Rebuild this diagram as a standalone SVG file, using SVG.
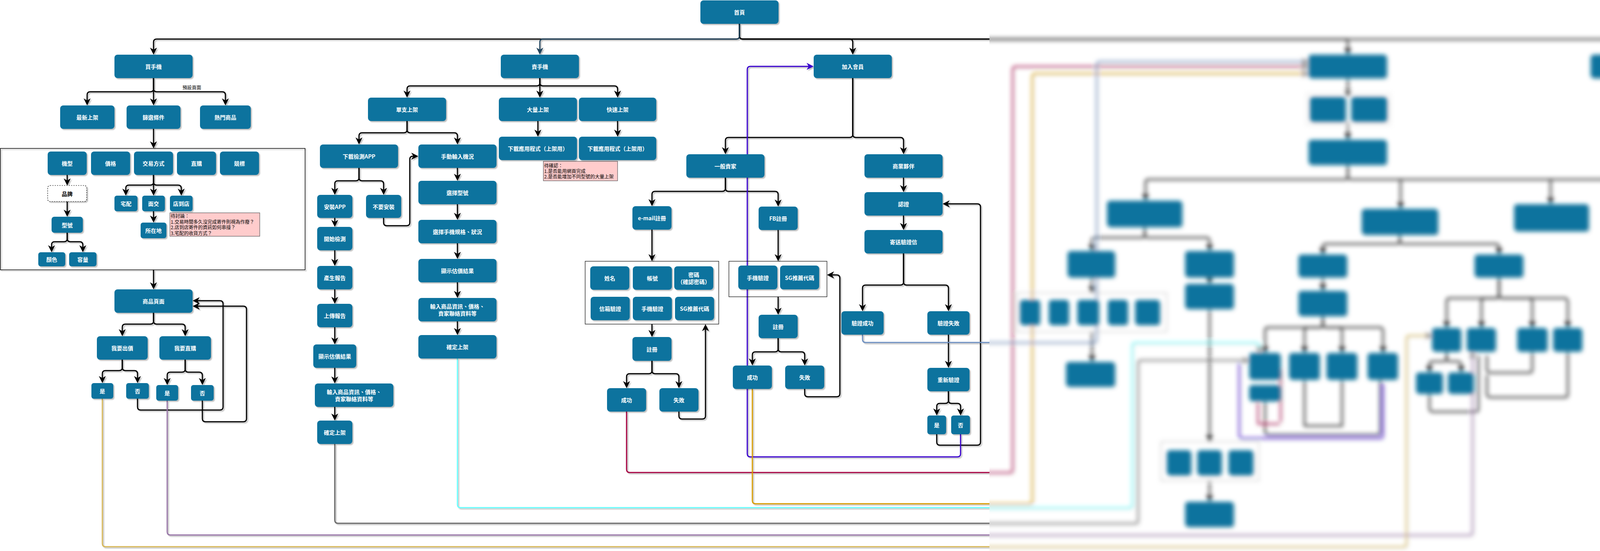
<svg xmlns="http://www.w3.org/2000/svg" xmlns:xlink="http://www.w3.org/1999/xlink" width="4814" height="1411" viewBox="0 0 4814 1411">
<style>
.nd rect{fill:#10739E;filter:url(#sh)}
.nd text,.tx{fill:#fff;font-family:"Noto Sans CJK TC","Noto Sans CJK SC",sans-serif;font-size:14px;font-weight:bold;text-anchor:middle;dominant-baseline:central}
.e{fill:none;stroke:#000;stroke-width:3;marker-end:url(#ab)}
.p{fill:none;stroke:#000;stroke-width:3}
.box{fill:none;stroke:#000;stroke-width:1.2}
.note rect{fill:#FFCCCC;stroke:#36393D;stroke-width:1}
.note text,.lbl{fill:#000;font-family:"Noto Sans CJK TC","Noto Sans CJK SC",sans-serif;font-size:12px}
</style>
<defs>
<filter id="sh" x="-20%" y="-20%" width="140%" height="150%"><feDropShadow dx="3" dy="3" stdDeviation="1" flood-color="#000" flood-opacity="0.25"/></filter>
<filter id="bl" x="-2%" y="-5%" width="104%" height="110%"><feGaussianBlur stdDeviation="6"/></filter>
<clipPath id="rc"><rect x="2533" y="0" width="2281" height="1411"/></clipPath>
<marker id="ab" viewBox="0 0 20 20" refX="9" refY="10" markerWidth="18" markerHeight="18" markerUnits="userSpaceOnUse" orient="auto"><path d="M20,10 L0,0 L6,10 L0,20 Z" fill="#000"/></marker>
<marker id="as" viewBox="0 0 20 20" refX="9" refY="10" markerWidth="18" markerHeight="18" markerUnits="userSpaceOnUse" orient="auto"><path d="M20,10 L0,0 L6,10 L0,20 Z" fill="#23445D"/></marker>
<marker id="ap" viewBox="0 0 20 20" refX="9" refY="10" markerWidth="18" markerHeight="18" markerUnits="userSpaceOnUse" orient="auto"><path d="M20,10 L0,0 L6,10 L0,20 Z" fill="#3700CC"/></marker>
<marker id="ac" viewBox="0 0 20 20" refX="9" refY="10" markerWidth="18" markerHeight="18" markerUnits="userSpaceOnUse" orient="auto"><path d="M20,10 L0,0 L6,10 L0,20 Z" fill="#888"/></marker>
</defs>
<rect x="0" y="0" width="4814" height="1411" fill="#fff"/>

<g id="connectors" filter="url(#sh)">
<path class="e" d="M1893,61 V92 Q1893,100 1885,100 H401 Q393,100 393,108 V130"/>
<path class="e" d="M1893,61 V92 Q1893,100 1901,100 H2175 Q2183,100 2183,108 V130"/>
<path class="e" d="M1893,61 V92 Q1893,100 1901,100 H3442 Q3450,100 3450,108 V130"/>
<path class="e" d="M1893,61 V92 Q1893,100 1901,100 H4164 Q4172,100 4172,108 V130"/>
<path class="e" style="stroke:#23445D;marker-end:url(#as)" d="M1893,61 V92 Q1893,100 1885,100 H1390 Q1382,100 1382,108 V130"/>
<path class="e" d="M393,200 V227 Q393,235 385,235 H231 Q223,235 223,243 V260"/>
<path class="e" d="M393,200 V260"/>
<path class="e" d="M393,200 V227 Q393,235 401,235 H569 Q577,235 577,243 V260"/>
<path class="e" d="M393,330 V370"/>
<path class="e" d="M172,448 V465"/>
<path class="e" d="M172,516 V545"/>
<path class="e" d="M172,596 V611 Q172,619 164,619 H140 Q132,619 132,627 V636"/>
<path class="e" d="M172,596 V611 Q172,619 180,619 H204 Q212,619 212,627 V636"/>
<path class="e" d="M393,448 V466 Q393,474 385,474 H330 Q322,474 322,482 V491"/>
<path class="e" d="M393,448 V491"/>
<path class="e" d="M393,448 V466 Q393,474 401,474 H456 Q464,474 464,482 V491"/>
<path class="e" d="M393,541 V560"/>
<path class="e" d="M393,691 V731"/>
<path class="e" d="M393,801 V822 Q393,830 385,830 H321 Q313,830 313,838 V851"/>
<path class="e" d="M393,801 V822 Q393,830 401,830 H466 Q474,830 474,838 V851"/>
<path class="e" d="M313,921 V941 Q313,949 305,949 H270 Q262,949 262,957 V971"/>
<path class="e" d="M313,921 V941 Q313,949 321,949 H344 Q352,949 352,957 V971"/>
<path class="e" d="M474,921 V945 Q474,953 466,953 H436 Q428,953 428,961 V976"/>
<path class="e" d="M474,921 V945 Q474,953 482,953 H510 Q518,953 518,961 V976"/>
<path class="e" d="M352,1021 V1042 Q352,1050 360,1050 H563 Q571,1050 571,1042 V778 Q571,770 563,770 H503"/>
<path class="e" d="M518,1026 V1072 Q518,1080 526,1080 H623 Q631,1080 631,1072 V792 Q631,784 623,784 H503"/>
<path class="e" d="M1382,200 V212 Q1382,220 1374,220 H1050 Q1042,220 1042,228 V240"/>
<path class="e" d="M1382,200 V240"/>
<path class="e" d="M1382,200 V212 Q1382,220 1390,220 H1573 Q1581,220 1581,228 V240"/>
<path class="e" d="M1377,310 V340"/>
<path class="e" d="M1581,310 V340"/>
<path class="e" d="M1042,310 V332 Q1042,340 1034,340 H927 Q919,340 919,348 V360"/>
<path class="e" d="M1042,310 V332 Q1042,340 1050,340 H1163 Q1171,340 1171,348 V360"/>
<path class="e" d="M919,430 V455 Q919,463 911,463 H865 Q857,463 857,471 V489"/>
<path class="e" d="M919,430 V455 Q919,463 927,463 H974 Q982,463 982,471 V489"/>
<path class="e" d="M982,558 V570 Q982,578 990,578 H1041 Q1049,578 1049,570 V408 Q1049,400 1057,400 H1061"/>
<path class="e" d="M857,558 V571"/>
<path class="e" d="M857,641 V671"/>
<path class="e" d="M857,741 V768"/>
<path class="e" d="M857,838 V872"/>
<path class="e" d="M857,942 V972"/>
<path class="e" d="M857,1042 V1067"/>
<path class="e" d="M1171,430 V453"/>
<path class="e" d="M1171,523 V553"/>
<path class="e" d="M1171,623 V653"/>
<path class="e" d="M1171,723 V753"/>
<path class="e" d="M1171,823 V848"/>
<path class="e" d="M2183,200 V344 Q2183,352 2175,352 H1865 Q1857,352 1857,360 V385"/>
<path class="e" d="M2183,200 V344 Q2183,352 2191,352 H2305 Q2313,352 2313,360 V385"/>
<path class="e" d="M1857,455 V482 Q1857,490 1849,490 H1677 Q1669,490 1669,498 V518"/>
<path class="e" d="M1857,455 V482 Q1857,490 1865,490 H1984 Q1992,490 1992,498 V519"/>
<path class="e" d="M1669,588 V659"/>
<path class="e" d="M1669,830 V853"/>
<path class="e" d="M1669,924 V949 Q1669,957 1661,957 H1612 Q1604,957 1604,965 V984"/>
<path class="e" d="M1669,924 V949 Q1669,957 1677,957 H1730 Q1738,957 1738,965 V984"/>
<path class="e" d="M1738,1054 V1065 Q1738,1073 1746,1073 H1798 Q1806,1073 1806,1065 V840"/>
<path class="e" d="M1992,589 V659"/>
<path class="e" d="M1992,760 V796"/>
<path class="e" d="M1992,866 V893 Q1992,901 1984,901 H1934 Q1926,901 1926,909 V926"/>
<path class="e" d="M1992,866 V893 Q1992,901 2000,901 H2052 Q2060,901 2060,909 V926"/>
<path class="e" d="M2060,996 V1008 Q2060,1016 2068,1016 H2142 Q2150,1016 2150,1008 V712 Q2150,704 2142,704 H2127"/>
<path class="e" d="M2313,455 V482"/>
<path class="e" d="M2313,552 V579"/>
<path class="e" d="M2313,649 V722 Q2313,730 2305,730 H2216 Q2208,730 2208,738 V787"/>
<path class="e" d="M2313,649 V722 Q2313,730 2321,730 H2420 Q2428,730 2428,738 V787"/>
<path class="e" d="M2428,857 V932"/>
<path class="e" d="M2428,1002 V1025 Q2428,1033 2420,1033 H2406 Q2398,1033 2398,1041 V1054"/>
<path class="e" d="M2428,1002 V1025 Q2428,1033 2436,1033 H2451 Q2459,1033 2459,1041 V1054"/>
<path class="e" d="M2398,1112 V1132 Q2398,1140 2406,1140 H2502 Q2510,1140 2510,1132 V530 Q2510,522 2502,522 H2423"/>
<path class="e" style="stroke:#3700CC;marker-end:url(#ap)" d="M2459,1112 V1162 Q2459,1170 2451,1170 H1921 Q1913,1170 1913,1162 V178 Q1913,170 1921,170 H2073"/>
<path class="e" style="stroke:#A50040;marker-end:url(#ac)" d="M1604,1054 V1202 Q1604,1210 1612,1210 H2584 Q2592,1210 2592,1202 V178 Q2592,170 2600,170 H3340"/>
<path class="e" style="stroke:#D79B00;marker-end:url(#ac)" d="M1926,996 V1282 Q1926,1290 1934,1290 H2634 Q2642,1290 2642,1282 V196 Q2642,188 2650,188 H3340"/>
<path class="e" style="stroke:#6C8EBF;marker-end:url(#ac)" d="M2208,857 V869 Q2208,877 2216,877 H2799 Q2807,877 2807,869 V165 Q2807,157 2815,157 H3340"/>
<path class="e" style="stroke:#66FFFF;marker-end:url(#ac)" d="M1171,918 V1292 Q1171,1300 1179,1300 H2890 Q2898,1300 2898,1292 V885 Q2898,877 2906,877 H3215 Q3223,877 3223,885 V894"/>
<path class="e" style="stroke:#666666;marker-end:url(#ac)" d="M857,1137 V1332 Q857,1340 865,1340 H2905 Q2913,1340 2913,1332 V930 Q2913,922 2921,922 H3188"/>
<path class="e" style="stroke:#9673A6;marker-end:url(#ac)" d="M428,1026 V1362 Q428,1370 436,1370 H3761 Q3769,1370 3769,1362 V910"/>
<path class="e" style="stroke:#D6B656;marker-end:url(#ac)" d="M262,1021 V1392 Q262,1400 270,1400 H3592 Q3600,1400 3600,1392 V867 Q3600,859 3608,859 H3656"/>
<path class="e" d="M3450,200 V238"/>
<path class="e" d="M3450,312 V348"/>
<path class="e" d="M3450,422 V451 Q3450,459 3442,459 H2940 Q2932,459 2932,467 V504"/>
<path class="e" d="M3450,422 V451 Q3450,459 3458,459 H4499 Q4507,459 4507,467 V513"/>
<path class="e" d="M3585,459 V525"/>
<path class="e" d="M3969,459 V513"/>
<path class="e" d="M4239,459 V513"/>
<path class="e" d="M2930,581 V600 Q2930,608 2922,608 H2803 Q2795,608 2795,616 V633"/>
<path class="e" d="M2930,581 V600 Q2930,608 2938,608 H3088 Q3096,608 3096,616 V633"/>
<path class="e" d="M3583,601 V616 Q3583,624 3575,624 H3394 Q3386,624 3386,632 V642"/>
<path class="e" d="M3583,601 V616 Q3583,624 3591,624 H3829 Q3837,624 3837,632 V642"/>
<path class="e" d="M4511,592 V603 Q4511,611 4503,611 H4336 Q4328,611 4328,619 V633"/>
<path class="e" d="M4511,592 V633"/>
<path class="e" d="M4511,592 V603 Q4511,611 4519,611 H4631 Q4639,611 4639,619 V633"/>
<path class="e" d="M4511,592 V603 Q4511,611 4519,611 H4759 Q4767,611 4767,619 V633"/>
<path class="e" d="M2795,710 V740"/>
<path class="e" d="M2795,850 V917"/>
<path class="e" d="M3096,710 V717"/>
<path class="e" d="M3096,791 V1121"/>
<path class="e" d="M3096,1231 V1275"/>
<path class="e" d="M3386,710 V735"/>
<path class="e" d="M3386,809 V830 Q3386,838 3378,838 H3246 Q3238,838 3238,846 V894"/>
<path class="e" d="M3386,809 V830 Q3386,838 3378,838 H3347 Q3339,838 3339,846 V894"/>
<path class="e" d="M3386,809 V830 Q3386,838 3394,838 H3427 Q3435,838 3435,846 V894"/>
<path class="e" d="M3386,809 V830 Q3386,838 3394,838 H3532 Q3540,838 3540,846 V894"/>
<path class="p" d="M3238,1027 V1105 Q3238,1113 3246,1113 H3525 Q3533,1113 3533,1105 V972"/>
<path class="p" d="M3339,972 V1090 H3435 V972"/>
<path class="p" style="stroke:#3700CC" d="M3172,930 V1114 Q3172,1122 3180,1122 H3532 Q3540,1122 3540,1114 V982"/>
<path class="p" style="stroke:#A50040" d="M3278,945 V1080 M3220,1030 V1085 H3275"/>
<path class="e" d="M3837,710 V755 Q3837,763 3829,763 H3711 Q3703,763 3703,771 V830"/>
<path class="e" d="M3837,710 V755 Q3837,763 3829,763 H3800 Q3792,763 3792,771 V830"/>
<path class="e" d="M3837,710 V755 Q3837,763 3845,763 H3914 Q3922,763 3922,771 V830"/>
<path class="e" d="M3837,710 V755 Q3837,763 3845,763 H4005 Q4013,763 4013,771 V830"/>
<path class="e" d="M3703,900 V917 Q3703,925 3695,925 H3667 Q3659,925 3659,933 V944"/>
<path class="e" d="M3703,900 V917 Q3703,925 3711,925 H3732 Q3740,925 3740,933 V944"/>
<path class="p" d="M3659,1008 V1046 Q3659,1054 3667,1054 H3776 Q3784,1054 3784,1046 V910"/>
<path class="p" d="M3922,900 V946 Q3922,954 3914,954 H3814 Q3806,954 3806,946 V910"/>
<path class="p" d="M4013,900 V1009 Q4013,1017 4005,1017 H3814 Q3806,1017 3806,1009 V960"/>
<path class="e" d="M4328,713 V732 Q4328,740 4320,740 H4296 Q4288,740 4288,748 V758"/>
<path class="e" d="M4328,713 V732 Q4328,740 4336,740 H4358 Q4366,740 4366,748 V758"/>
<path class="e" d="M4511,713 V732 Q4511,740 4503,740 H4473 Q4465,740 4465,748 V758"/>
<path class="e" d="M4511,713 V732 Q4511,740 4519,740 H4547 Q4555,740 4555,748 V758"/>
</g>

<g id="c-filter"><rect class="box" x="1" y="380" width="780" height="311" style="stroke-width:1.5;filter:url(#sh)"/></g>
<g id="c-email"><rect class="box" x="1498" y="669" width="342" height="161"/></g>
<g id="c-fb"><rect class="box" x="1866" y="669" width="251" height="91"/></g>
<g id="note-trade" class="note"><rect x="435" y="545" width="230" height="60"/>
<text x="437" y="558">待討論：<tspan x="437" dy="14.5">1.交易時間多久沒完成寄件則視為作廢？</tspan><tspan x="437" dy="14.5">2.店到店寄件的資訊如何串接？</tspan><tspan x="437" dy="14.5">3.宅配的收貨方式？</tspan></text></g>
<g id="note-bulk" class="note"><rect x="1391" y="413" width="190" height="50"/>
<text x="1393" y="429">待確認：<tspan x="1393" dy="14">1.是否能用網頁完成</tspan><tspan x="1393" dy="14">2.是否能增加不同型號的大量上架</tspan></text></g>
<g id="lbl-default"><rect x="465" y="215" width="52" height="16" fill="#fff"/><text class="lbl" x="491" y="223" text-anchor="middle" dominant-baseline="central">預設頁面</text></g>

<g id="n-home" class="nd"><rect x="1793" y="1" width="200" height="60" rx="8"/><text x="1893" y="31">首頁</text></g>
<g id="n-buy" class="nd"><rect x="293" y="140" width="200" height="60" rx="8"/><text x="393" y="170">買手機</text></g>
<g id="n-sell" class="nd"><rect x="1282" y="140" width="200" height="60" rx="8"/><text x="1382" y="170">賣手機</text></g>
<g id="n-member" class="nd"><rect x="2083" y="140" width="200" height="60" rx="8"/><text x="2183" y="170">加入會員</text></g>
<g id="n-latest" class="nd"><rect x="154" y="270" width="139" height="60" rx="8"/><text x="223.5" y="300">最新上架</text></g>
<g id="n-filter" class="nd"><rect x="324" y="270" width="138" height="60" rx="8"/><text x="393" y="300">篩選條件</text></g>
<g id="n-hot" class="nd"><rect x="512" y="270" width="130" height="60" rx="8"/><text x="577" y="300">熱門商品</text></g>
<g id="n-model" class="nd"><rect x="122" y="388" width="100" height="60" rx="8"/><text x="172" y="418">機型</text></g>
<g id="n-price" class="nd"><rect x="233" y="388" width="100" height="60" rx="8"/><text x="283" y="418">價格</text></g>
<g id="n-trade" class="nd"><rect x="343" y="388" width="100" height="60" rx="8"/><text x="393" y="418">交易方式</text></g>
<g id="n-direct" class="nd"><rect x="453" y="388" width="100" height="60" rx="8"/><text x="503" y="418">直購</text></g>
<g id="n-auction" class="nd"><rect x="563" y="388" width="100" height="60" rx="8"/><text x="613" y="418">競標</text></g>
<g id="n-brand"><rect x="122" y="475" width="100" height="41" rx="6" fill="#fff" stroke="#000" stroke-width="1.2" stroke-dasharray="3 3" filter="url(#sh)"/><text class="tx" x="172" y="495.5" style="fill:#000">品牌</text></g>
<g id="n-modelno" class="nd"><rect x="132" y="555" width="80" height="41" rx="7"/><text x="172" y="575.5">型號</text></g>
<g id="n-color" class="nd"><rect x="98" y="646" width="69" height="36" rx="6"/><text x="132.5" y="664">顏色</text></g>
<g id="n-capacity" class="nd"><rect x="177" y="646" width="70" height="36" rx="6"/><text x="212" y="664">容量</text></g>
<g id="n-delivery" class="nd"><rect x="293" y="501" width="59" height="40" rx="6"/><text x="322.5" y="521">宅配</text></g>
<g id="n-meet" class="nd"><rect x="364" y="501" width="58" height="40" rx="6"/><text x="393" y="521">面交</text></g>
<g id="n-store" class="nd"><rect x="435" y="501" width="58" height="40" rx="6"/><text x="464" y="521">店到店</text></g>
<g id="n-location" class="nd"><rect x="360" y="570" width="66" height="40" rx="6"/><text x="393" y="590">所在地</text></g>
<g id="n-product" class="nd"><rect x="293" y="741" width="200" height="60" rx="8"/><text x="393" y="771">商品頁面</text></g>
<g id="n-bid" class="nd"><rect x="248" y="861" width="130" height="60" rx="8"/><text x="313" y="891">我要出價</text></g>
<g id="n-buynow" class="nd"><rect x="408" y="861" width="132" height="60" rx="8"/><text x="474" y="891">我要直購</text></g>
<g id="n-bid-yes" class="nd"><rect x="234" y="981" width="56" height="40" rx="6"/><text x="262" y="1001">是</text></g>
<g id="n-bid-no" class="nd"><rect x="323" y="981" width="58" height="40" rx="6"/><text x="352" y="1001">否</text></g>
<g id="n-buynow-yes" class="nd"><rect x="400" y="986" width="56" height="40" rx="6"/><text x="428" y="1006">是</text></g>
<g id="n-buynow-no" class="nd"><rect x="489" y="986" width="58" height="40" rx="6"/><text x="518" y="1006">否</text></g>
<g id="n-single" class="nd"><rect x="942" y="250" width="200" height="60" rx="8"/><text x="1042" y="280">單支上架</text></g>
<g id="n-bulk" class="nd"><rect x="1277" y="250" width="200" height="60" rx="8"/><text x="1377" y="280">大量上架</text></g>
<g id="n-quick" class="nd"><rect x="1482" y="250" width="198" height="60" rx="8"/><text x="1581" y="280">快速上架</text></g>
<g id="n-dl1" class="nd"><rect x="1277" y="350" width="200" height="60" rx="8"/><text x="1377" y="380">下載應用程式（上架用）</text></g>
<g id="n-dl2" class="nd"><rect x="1482" y="350" width="198" height="60" rx="8"/><text x="1581" y="380">下載應用程式（上架用）</text></g>
<g id="n-dlapp" class="nd"><rect x="819" y="370" width="200" height="60" rx="8"/><text x="919" y="400">下載檢測APP</text></g>
<g id="n-manual" class="nd"><rect x="1071" y="370" width="200" height="60" rx="8"/><text x="1171" y="400">手動輸入機況</text></g>
<g id="n-install" class="nd"><rect x="812" y="499" width="90" height="59" rx="8"/><text x="857" y="528.5">安裝APP</text></g>
<g id="n-noinstall" class="nd"><rect x="937" y="499" width="90" height="59" rx="8"/><text x="982" y="528.5">不要安裝</text></g>
<g id="n-start" class="nd"><rect x="812" y="581" width="90" height="60" rx="8"/><text x="857" y="611">開始檢測</text></g>
<g id="n-report" class="nd"><rect x="812" y="681" width="90" height="60" rx="8"/><text x="857" y="711">產生報告</text></g>
<g id="n-upload" class="nd"><rect x="812" y="778" width="90" height="60" rx="8"/><text x="857" y="808">上傳報告</text></g>
<g id="n-est1" class="nd"><rect x="802" y="882" width="110" height="60" rx="8"/><text x="857" y="912">顯示估價結果</text></g>
<g id="n-input1" class="nd"><rect x="806" y="982" width="201" height="60" rx="8"/><text x="906.5" y="1003">輸入商品資訊、價格、</text><text x="906.5" y="1021">賣家聯絡資料等</text></g>
<g id="n-confirm1" class="nd"><rect x="812" y="1077" width="90" height="60" rx="8"/><text x="857" y="1107">確定上架</text></g>
<g id="n-selmodel" class="nd"><rect x="1071" y="463" width="200" height="60" rx="8"/><text x="1171" y="493">選擇型號</text></g>
<g id="n-spec" class="nd"><rect x="1071" y="563" width="200" height="60" rx="8"/><text x="1171" y="593">選擇手機規格、狀況</text></g>
<g id="n-est2" class="nd"><rect x="1071" y="663" width="200" height="60" rx="8"/><text x="1171" y="693">顯示估價結果</text></g>
<g id="n-input2" class="nd"><rect x="1071" y="763" width="200" height="60" rx="8"/><text x="1171" y="784">輸入商品資訊、價格、</text><text x="1171" y="802">賣家聯絡資料等</text></g>
<g id="n-confirm2" class="nd"><rect x="1071" y="858" width="200" height="60" rx="8"/><text x="1171" y="888">確定上架</text></g>
<g id="n-general" class="nd"><rect x="1757" y="395" width="200" height="60" rx="8"/><text x="1857" y="425">一般賣家</text></g>
<g id="n-biz" class="nd"><rect x="2213" y="395" width="200" height="60" rx="8"/><text x="2313" y="425">商業夥伴</text></g>
<g id="n-email" class="nd"><rect x="1619" y="528" width="100" height="60" rx="8"/><text x="1669" y="558">e-mail註冊</text></g>
<g id="n-fb" class="nd"><rect x="1942" y="529" width="100" height="60" rx="8"/><text x="1992" y="559">FB註冊</text></g>
<g id="n-name" class="nd"><rect x="1511" y="682" width="100" height="60" rx="8"/><text x="1561" y="712">姓名</text></g>
<g id="n-account" class="nd"><rect x="1620" y="682" width="100" height="60" rx="8"/><text x="1670" y="712">帳號</text></g>
<g id="n-password" class="nd"><rect x="1726" y="682" width="100" height="60" rx="8"/><text x="1776" y="703">密碼</text><text x="1776" y="721">（確認密碼）</text></g>
<g id="n-mailverify" class="nd"><rect x="1512" y="760" width="100" height="60" rx="8"/><text x="1562" y="790">信箱驗證</text></g>
<g id="n-phone1" class="nd"><rect x="1620" y="760" width="100" height="60" rx="8"/><text x="1670" y="790">手機驗證</text></g>
<g id="n-sg1" class="nd"><rect x="1728" y="760" width="100" height="60" rx="8"/><text x="1778" y="790">SG推薦代碼</text></g>
<g id="n-reg1" class="nd"><rect x="1619" y="863" width="100" height="61" rx="8"/><text x="1669" y="893.5">註冊</text></g>
<g id="n-ok1" class="nd"><rect x="1554" y="994" width="100" height="60" rx="8"/><text x="1604" y="1024">成功</text></g>
<g id="n-fail1" class="nd"><rect x="1688" y="994" width="100" height="60" rx="8"/><text x="1738" y="1024">失敗</text></g>
<g id="n-phone2" class="nd"><rect x="1890" y="680" width="100" height="61" rx="8"/><text x="1940" y="710.5">手機驗證</text></g>
<g id="n-sg2" class="nd"><rect x="1997" y="680" width="100" height="61" rx="8"/><text x="2047" y="710.5">SG推薦代碼</text></g>
<g id="n-reg2" class="nd"><rect x="1942" y="806" width="100" height="60" rx="8"/><text x="1992" y="836">註冊</text></g>
<g id="n-ok2" class="nd"><rect x="1876" y="936" width="100" height="60" rx="8"/><text x="1926" y="966">成功</text></g>
<g id="n-fail2" class="nd"><rect x="2010" y="936" width="100" height="60" rx="8"/><text x="2060" y="966">失敗</text></g>
<g id="n-cert" class="nd"><rect x="2213" y="492" width="200" height="60" rx="8"/><text x="2313" y="522">認證</text></g>
<g id="n-sendmail" class="nd"><rect x="2213" y="589" width="200" height="60" rx="8"/><text x="2313" y="619">寄送驗證信</text></g>
<g id="n-certok" class="nd"><rect x="2154" y="797" width="108" height="60" rx="8"/><text x="2208" y="827">驗證成功</text></g>
<g id="n-certfail" class="nd"><rect x="2374" y="797" width="108" height="60" rx="8"/><text x="2428" y="827">驗證失敗</text></g>
<g id="n-recert" class="nd"><rect x="2374" y="942" width="108" height="60" rx="8"/><text x="2428" y="972">重新驗證</text></g>
<g id="n-recert-yes" class="nd"><rect x="2374" y="1064" width="48" height="48" rx="6"/><text x="2398" y="1088">是</text></g>
<g id="n-recert-no" class="nd"><rect x="2435" y="1064" width="48" height="48" rx="6"/><text x="2459" y="1088">否</text></g>

<rect x="2533" y="0" width="2281" height="1411" fill="#fff"/>
<g id="blurred-area" clip-path="url(#rc)" filter="url(#bl)">
<use href="#connectors"/>
<g id="b-pair-box"><rect class="box" x="3345" y="240" width="214" height="80" style="stroke:#ccc"/></g>
<g id="b-f-box"><rect class="box" x="2603" y="750" width="384" height="100" style="stroke:#999"/></g>
<g id="b-i-box"><rect class="box" x="2972" y="1131" width="251" height="100" style="stroke:#999"/></g>
<g id="b-a" class="nd"><rect x="3350" y="140" width="200" height="60" rx="8"/></g>
<g id="b-b" class="nd"><rect x="4072" y="140" width="200" height="60" rx="8"/></g>
<g id="b-p1" class="nd"><rect x="3353" y="248" width="92" height="64" rx="8"/></g>
<g id="b-p2" class="nd"><rect x="3459" y="248" width="92" height="64" rx="8"/></g>
<g id="b-c" class="nd"><rect x="3350" y="358" width="200" height="64" rx="8"/></g>
<g id="b-d1" class="nd"><rect x="2834" y="514" width="192" height="67" rx="8"/></g>
<g id="b-d2" class="nd"><rect x="3486" y="535" width="195" height="66" rx="8"/></g>
<g id="b-d3" class="nd"><rect x="3876" y="523" width="191" height="69" rx="8"/></g>
<g id="b-d4" class="nd"><rect x="4143" y="523" width="195" height="69" rx="8"/></g>
<g id="b-d5" class="nd"><rect x="4414" y="523" width="194" height="69" rx="8"/></g>
<g id="b-e1" class="nd"><rect x="2733" y="643" width="121" height="67" rx="8"/></g>
<g id="b-e2" class="nd"><rect x="3034" y="643" width="124" height="67" rx="8"/></g>
<g id="b-e3" class="nd"><rect x="3324" y="652" width="124" height="58" rx="8"/></g>
<g id="b-e4" class="nd"><rect x="3775" y="652" width="124" height="58" rx="8"/></g>
<g id="b-e5" class="nd"><rect x="4293" y="643" width="70" height="70" rx="8"/></g>
<g id="b-e6" class="nd"><rect x="4448" y="643" width="126" height="70" rx="8"/></g>
<g id="b-e7" class="nd"><rect x="4596" y="643" width="86" height="70" rx="8"/></g>
<g id="b-e8" class="nd"><rect x="4721" y="643" width="93" height="70" rx="8"/></g>
<g id="b-f1" class="nd"><rect x="2611" y="768" width="51" height="64" rx="8"/></g>
<g id="b-f2" class="nd"><rect x="2685" y="768" width="51" height="64" rx="8"/></g>
<g id="b-f3" class="nd"><rect x="2758" y="768" width="55" height="64" rx="8"/></g>
<g id="b-f4" class="nd"><rect x="2836" y="768" width="51" height="64" rx="8"/></g>
<g id="b-f5" class="nd"><rect x="2906" y="768" width="63" height="64" rx="8"/></g>
<g id="b-g" class="nd"><rect x="2729" y="927" width="125" height="63" rx="8"/></g>
<g id="b-h" class="nd"><rect x="3034" y="727" width="124" height="64" rx="8"/></g>
<g id="b-i1" class="nd"><rect x="2987" y="1153" width="62" height="64" rx="8"/></g>
<g id="b-i2" class="nd"><rect x="3065" y="1153" width="62" height="64" rx="8"/></g>
<g id="b-i3" class="nd"><rect x="3145" y="1153" width="63" height="64" rx="8"/></g>
<g id="b-j" class="nd"><rect x="3034" y="1285" width="124" height="64" rx="8"/></g>
<g id="b-k" class="nd"><rect x="3324" y="745" width="124" height="64" rx="8"/></g>
<g id="b-l1" class="nd"><rect x="3198" y="904" width="80" height="68" rx="8"/></g>
<g id="b-l2" class="nd"><rect x="3300" y="904" width="78" height="68" rx="8"/></g>
<g id="b-l3" class="nd"><rect x="3396" y="904" width="78" height="68" rx="8"/></g>
<g id="b-l4" class="nd"><rect x="3501" y="904" width="77" height="68" rx="8"/></g>
<g id="b-m" class="nd"><rect x="3198" y="986" width="80" height="41" rx="8"/></g>
<g id="b-n1" class="nd"><rect x="3666" y="840" width="74" height="60" rx="8"/></g>
<g id="b-n2" class="nd"><rect x="3755" y="840" width="74" height="60" rx="8"/></g>
<g id="b-n3" class="nd"><rect x="3884" y="840" width="77" height="60" rx="8"/></g>
<g id="b-n4" class="nd"><rect x="3976" y="840" width="74" height="60" rx="8"/></g>
<g id="b-o1" class="nd"><rect x="3625" y="954" width="68" height="54" rx="8"/></g>
<g id="b-o2" class="nd"><rect x="3707" y="954" width="65" height="54" rx="8"/></g>
<g id="b-q1" class="nd"><rect x="4253" y="768" width="70" height="64" rx="8"/></g>
<g id="b-q2" class="nd"><rect x="4330" y="768" width="71" height="64" rx="8"/></g>
<g id="b-q3" class="nd"><rect x="4429" y="768" width="71" height="64" rx="8"/></g>
<g id="b-q4" class="nd"><rect x="4518" y="768" width="75" height="64" rx="8"/></g>
</g>
</svg>
